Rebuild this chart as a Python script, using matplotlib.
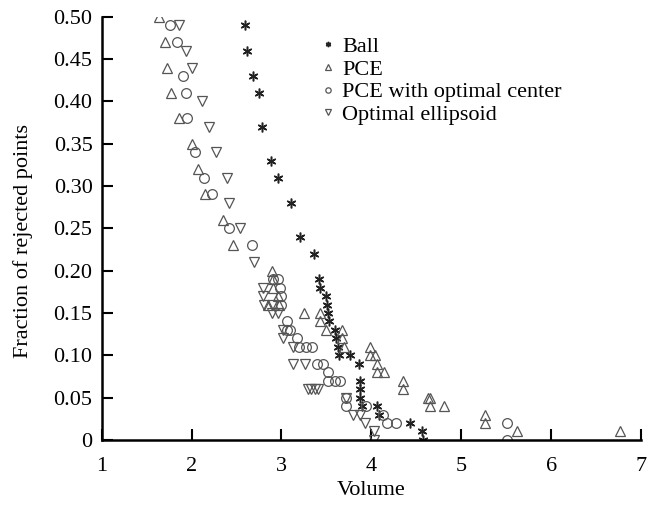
import matplotlib
matplotlib.use("Agg")
import matplotlib.pyplot as plt

plt.rcParams["font.family"] = ["Liberation Serif", "DejaVu Serif"]
plt.rcParams["font.size"] = 16

# Ball (asterisks)
ball_x = [2.59, 2.62, 2.68, 2.75, 2.78, 2.88, 2.96, 3.11, 3.21, 3.36, 3.42, 3.43,
          3.49, 3.51, 3.52, 3.53, 3.59, 3.61, 3.63, 3.64, 3.76, 3.86, 3.87, 3.87,
          3.87, 3.90, 4.06, 4.09, 4.43, 4.56, 4.57]
ball_y = [0.49, 0.46, 0.43, 0.41, 0.37, 0.33, 0.31, 0.28, 0.24, 0.22, 0.19, 0.18,
          0.17, 0.16, 0.15, 0.14, 0.13, 0.12, 0.11, 0.10, 0.10, 0.09, 0.07, 0.06,
          0.05, 0.04, 0.04, 0.03, 0.02, 0.01, 0.00]

# PCE (up triangles)
pce_x = [1.64, 1.71, 1.73, 1.77, 1.86, 2.00, 2.07, 2.15, 2.35, 2.46, 2.89, 2.91,
         2.91, 2.96, 2.85, 2.97, 3.25, 3.43, 3.43, 3.50, 3.67, 3.67, 3.70, 3.98,
         3.99, 4.04, 4.06, 4.06, 4.14, 4.35, 4.35, 4.63, 4.65, 4.65, 4.81, 5.26,
         5.26, 5.62, 6.77]
pce_y = [0.50, 0.47, 0.44, 0.41, 0.38, 0.35, 0.32, 0.29, 0.26, 0.23, 0.20, 0.19,
         0.18, 0.17, 0.16, 0.16, 0.15, 0.15, 0.14, 0.13, 0.13, 0.12, 0.11, 0.11,
         0.10, 0.10, 0.09, 0.08, 0.08, 0.07, 0.06, 0.05, 0.05, 0.04, 0.04, 0.03,
         0.02, 0.01, 0.01]

# PCE with optimal center (circles)
pce_opt_x = [1.76, 1.84, 1.90, 1.94, 1.95, 2.04, 2.14, 2.23, 2.42, 2.67, 2.91, 2.96,
             2.98, 3.00, 3.00, 3.06, 3.06, 3.10, 3.17, 3.20, 3.27, 3.34, 3.39, 3.46,
             3.52, 3.52, 3.59, 3.65, 3.72, 3.72, 3.94, 4.13, 4.17, 4.27, 5.51, 5.51]
pce_opt_y = [0.49, 0.47, 0.43, 0.41, 0.38, 0.34, 0.31, 0.29, 0.25, 0.23, 0.19, 0.19,
             0.18, 0.17, 0.16, 0.14, 0.13, 0.13, 0.12, 0.11, 0.11, 0.11, 0.09, 0.09,
             0.08, 0.07, 0.07, 0.07, 0.05, 0.04, 0.04, 0.03, 0.02, 0.02, 0.02, 0.00]

# Optimal ellipsoid (down triangles)
ell_x = [1.86, 1.94, 2.01, 2.12, 2.19, 2.27, 2.39, 2.42, 2.54, 2.69, 2.80, 2.80,
         2.81, 2.90, 2.89, 2.96, 3.02, 3.02, 3.13, 3.13, 3.26, 3.30, 3.33, 3.37,
         3.41, 3.72, 3.80, 3.87, 3.93, 4.03, 4.03]
ell_y = [0.49, 0.46, 0.44, 0.40, 0.37, 0.34, 0.31, 0.28, 0.25, 0.21, 0.18, 0.17,
         0.16, 0.16, 0.15, 0.15, 0.13, 0.12, 0.11, 0.09, 0.09, 0.06, 0.06, 0.06,
         0.06, 0.05, 0.03, 0.03, 0.02, 0.01, 0.00]

yticks = [0, 0.05, 0.10, 0.15, 0.20, 0.25, 0.30, 0.35, 0.40, 0.45, 0.50]
ytick_labels = ["0", "0.05", "0.10", "0.15", "0.20", "0.25", "0.30", "0.35",
                "0.40", "0.45", "0.50"]
xticks = [1, 2, 3, 4, 5, 6, 7]

fig = plt.figure(figsize=(6.47, 5.08), dpi=100)
ax = fig.add_axes([0.157, 0.134, 0.834, 0.833])

gray = "#555555"
ax.plot(ball_x, ball_y, linestyle="none", marker=(6, 2, 0), markersize=7,
        markeredgewidth=1.1, color="#222222", label="Ball")
ax.plot(pce_x, pce_y, linestyle="none", marker="^", markersize=7.5,
        markerfacecolor="none", markeredgecolor=gray, markeredgewidth=0.9,
        label="PCE")
ax.plot(pce_opt_x, pce_opt_y, linestyle="none", marker="o", markersize=7,
        markerfacecolor="none", markeredgecolor=gray, markeredgewidth=0.9,
        label="PCE with optimal center")
ax.plot(ell_x, ell_y, linestyle="none", marker="v", markersize=7.5,
        markerfacecolor="none", markeredgecolor=gray, markeredgewidth=0.9,
        label="Optimal ellipsoid")

ax.set_xlim(1, 7)
ax.set_ylim(0, 0.5)
ax.set_xticks(xticks)
ax.set_yticks(yticks)
ax.set_yticklabels(ytick_labels)
ax.tick_params(direction="in", length=8, width=1.5, labelsize=16)
ax.tick_params(axis="x", pad=12)
ax.tick_params(axis="y", pad=6.5)
ax.spines["top"].set_visible(False)
ax.spines["right"].set_visible(False)
ax.spines["left"].set_linewidth(1.8)
ax.spines["bottom"].set_linewidth(1.8)
ax.set_xlabel("Volume", fontsize=16, labelpad=4)
ax.set_ylabel("Fraction of rejected points", fontsize=16, labelpad=12)
ax.yaxis.set_label_coords(-0.127, 0.47)
for sp in ax.spines.values():
    sp.set_clip_on(False)

ax.legend(loc="upper left", bbox_to_anchor=(0.39, 0.975), frameon=False,
          markerscale=0.55, handlelength=0.6, handletextpad=0.35,
          labelspacing=0.1, borderaxespad=0, fontsize=16)

fig.savefig("out.png", dpi=100)
